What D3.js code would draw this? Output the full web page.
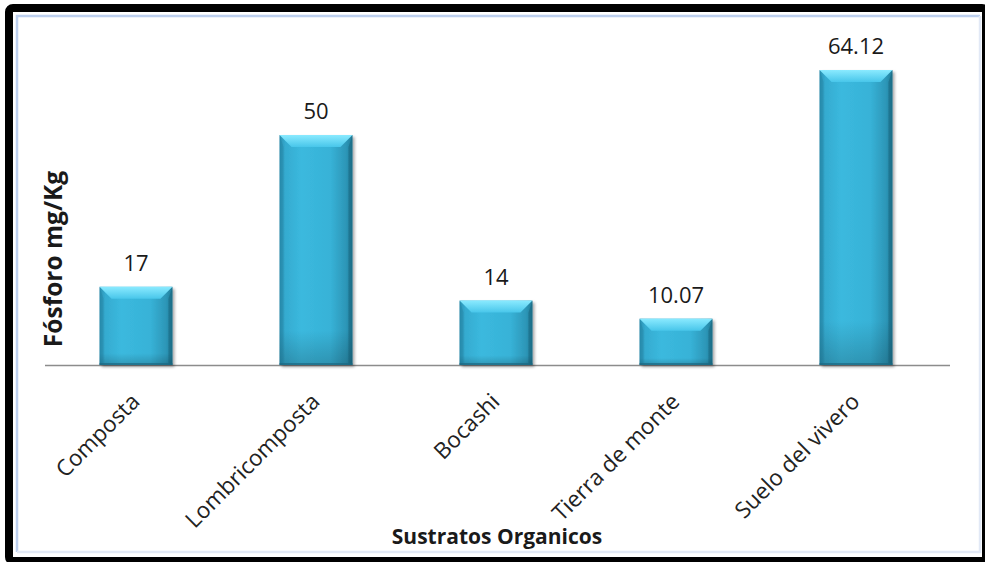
<!DOCTYPE html>
<html><head><meta charset="utf-8">
<script src="https://cdn.jsdelivr.net/npm/d3@7"></script>
<style>
html,body{margin:0;padding:0;background:#fff;}
svg{display:block;}
</style></head>
<body>
<svg id="chart" width="985" height="562"></svg>
<script>
const categories = ["Composta", "Lombricomposta", "Bocashi", "Tierra de monte", "Suelo del vivero"];
const values = [17, 50, 14, 10.07, 64.12];
const valueLabels = ["17", "50", "14", "10.07", "64.12"];
const yDomain = [0, 70];
const xTitle = "Sustratos Organicos";
const yTitle = "Fósforo mg/Kg";

const W = 985, H = 562;
const svg = d3.select("#chart");
const defs = svg.append("defs");

// frames
svg.append("rect").attr("x", 9).attr("y", 8).attr("width", 977).attr("height", 553)
  .attr("rx", 4).attr("fill", "none").attr("stroke", "#000").attr("stroke-width", 8);
svg.append("rect").attr("x", 13).attr("y", 12).attr("width", 969).attr("height", 545).attr("fill", "#fff");
svg.append("path").attr("d", "M17,552 L17,16 L980,16").attr("fill", "none").attr("stroke", "#bccfee").attr("stroke-width", 2.5);
svg.append("path").attr("d", "M980,16 L980,552 L17,552").attr("fill", "none").attr("stroke", "#e2e9f6").attr("stroke-width", 2.5);

const x = d3.scaleBand().domain(categories).range([46, 946]).paddingInner(0.595).paddingOuter(0.2975);
const y = d3.scaleLinear().domain(yDomain).range([365, 43]);

// gradients
const gMain = defs.append("linearGradient").attr("id", "gMain").attr("x1", 0).attr("x2", 1).attr("y1", 0).attr("y2", 0);
[[0, "#2a8fb0"], [0.08, "#35abd0"], [0.3, "#3bb9de"], [0.7, "#37b2d7"], [0.92, "#2c95b6"], [1, "#227b97"]]
  .forEach(([o, c]) => gMain.append("stop").attr("offset", o).attr("stop-color", c));
const gTop = defs.append("linearGradient").attr("id", "gTop").attr("x1", 0).attr("x2", 0).attr("y1", 0).attr("y2", 1);
[[0, "#8aeaff"], [1, "#48c6ea"]].forEach(([o, c]) => gTop.append("stop").attr("offset", o).attr("stop-color", c));
const gV = defs.append("linearGradient").attr("id", "gV").attr("x1", 0).attr("x2", 0).attr("y1", 0).attr("y2", 1);
[[0, "#ffffff", 0], [0.85, "#000000", 0], [1, "#000000", 0.18]].forEach(([o, c, a]) => gV.append("stop").attr("offset", o).attr("stop-color", c).attr("stop-opacity", a));
const filt = defs.append("filter").attr("id", "shadow").attr("x", "-20%").attr("y", "-20%").attr("width", "140%").attr("height", "140%");
filt.append("feDropShadow").attr("dx", 2).attr("dy", 2).attr("stdDeviation", 1.8).attr("flood-color", "#000").attr("flood-opacity", 0.35);

// axis line
const axisG = svg.append("g").attr("transform", `translate(0,${y(0)})`)
  .call(d3.axisBottom(x).tickSize(0).tickFormat(""));
axisG.select(".domain").attr("stroke", "#8c8c8c").attr("stroke-width", 1.5)
  .attr("d", `M45,0.5H950`);

// bars
const bars = svg.append("g").selectAll("g.bar").data(categories).enter().append("g").attr("class", "bar");
bars.each(function(c, i) {
  const g = d3.select(this);
  const x0 = x(c), bw = x.bandwidth(), y0 = y(values[i]), y1 = y(0);
  const b = 12, s = 4;
  g.append("rect").attr("x", x0).attr("y", y0).attr("width", bw).attr("height", y1 - y0)
    .attr("fill", "url(#gMain)").attr("filter", "url(#shadow)");
  g.append("rect").attr("x", x0).attr("y", y0).attr("width", bw).attr("height", y1 - y0)
    .attr("fill", "url(#gV)");
  // top bevel
  g.append("path").attr("d", `M${x0},${y0} L${x0 + bw},${y0} L${x0 + bw - b},${y0 + b} L${x0 + b},${y0 + b} Z`)
    .attr("fill", "url(#gTop)");
  // left / right bevel edges
  g.append("path").attr("d", `M${x0},${y0} L${x0 + s},${y0 + b} L${x0 + s},${y1 - 2} L${x0},${y1} Z`)
    .attr("fill", "#1f7f9e").attr("fill-opacity", 0.35);
  g.append("path").attr("d", `M${x0 + bw},${y0} L${x0 + bw - s},${y0 + b} L${x0 + bw - s},${y1 - 2} L${x0 + bw},${y1} Z`)
    .attr("fill", "#145a70").attr("fill-opacity", 0.4);
  g.append("rect").attr("x", x0).attr("y", y1 - 2).attr("width", bw).attr("height", 2)
    .attr("fill", "#1b6882").attr("fill-opacity", 0.7);
});

// value labels
svg.append("g").selectAll("text").data(categories).enter().append("text")
  .attr("x", c => x(c) + x.bandwidth() / 2)
  .attr("y", (c, i) => y(values[i]) - 16)
  .attr("text-anchor", "middle")
  .attr("font-family", "'Open Sans', sans-serif").attr("font-size", 22).attr("fill", "#1a1a1a")
  .text((c, i) => valueLabels[i]);

// category labels
svg.append("g").selectAll("text").data(categories).enter().append("text")
  .attr("transform", c => `translate(${x(c) + x.bandwidth() / 2 + 5},${y(0) + 38}) rotate(-45)`)
  .attr("text-anchor", "end")
  .attr("font-family", "'Open Sans', sans-serif").attr("font-size", 22.5).attr("fill", "#222")
  .text(c => c);

// axis titles
svg.append("text").attr("x", 497).attr("y", 544).attr("text-anchor", "middle")
  .attr("font-family", "'Open Sans', sans-serif").attr("font-weight", "bold").attr("font-size", 21).attr("fill", "#1a1a1a")
  .text(xTitle);
svg.append("text").attr("transform", "translate(62,259) rotate(-90)").attr("text-anchor", "middle")
  .attr("font-family", "'Open Sans', sans-serif").attr("font-weight", "bold").attr("font-size", 24.5).attr("fill", "#1a1a1a")
  .text(yTitle);
</script>
</body></html>
